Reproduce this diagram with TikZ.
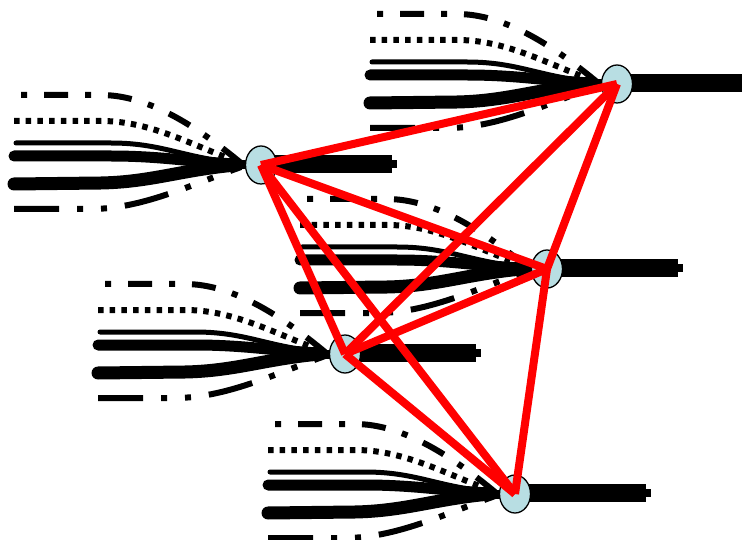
\documentclass[tikz,border=0pt]{standalone}
\usetikzlibrary{calc,shapes.geometric,backgrounds}
\definecolor{hubblue}{RGB}{184,222,227}
\definecolor{linkred}{RGB}{255,0,0}

\begin{document}
\begin{tikzpicture}[x=1pt, y=-1pt,
    hub/.style={ellipse, draw=black, line width=1.3pt, fill=hubblue, minimum width=31pt, minimum height=38pt, inner sep=0pt},
    fiber/.style={line width=#1, line cap=round},
    dashdot/.style={line width=6pt, dash pattern=on 24pt off 17pt on 6pt off 17pt, dash phase=41pt},
    dashdotdot/.style={line width=6pt, dash pattern=on 45pt off 18pt on 6pt off 18pt on 6pt off 18pt},
    squaredots/.style={line width=6pt, dash pattern=on 5.5pt off 6.2pt},
    trunk/.style={line width=18pt},
    link/.style={draw=linkred, line width=8pt}
  ]
  \useasboundingbox (0,0) rectangle (742,540);

  % hubs
  \node[hub] (A) at (261,165) {};
  \node[hub] (B) at (617,84) {};
  \node[hub] (C) at (547,269) {};
  \node[hub] (D) at (345,354) {};
  \node[hub] (E) at (515,494) {};

  % fibre bundles and trunks, behind the hubs
  \begin{scope}[on background layer]
    \foreach \hub in {A,B,C,D,E} {
      \begin{scope}[shift={(\hub)}]
        \draw[dashdot] (-240,-70) -- (-160,-70) .. controls (-110,-70) and (-60,-35) .. (-20,-2);
        \draw[squaredots] (-247,-44) -- (-160,-44) .. controls (-110,-44) and (-70,-20) .. (-20,-2);
        \draw[fiber=5pt] (-245,-22) -- (-150,-22) .. controls (-100,-22) and (-80,-8) .. (-25,-2);
        \draw[fiber=11pt] (-247,-9) -- (-150,-9) .. controls (-100,-9) and (-70,-3) .. (-25,-1);
        \draw[fiber=13pt] (-247,19) -- (-160,18) .. controls (-110,17) and (-80,5) .. (-25,0);
        \draw[dashdotdot] (-247,44) -- (-170,44) .. controls (-120,44) and (-70,20) .. (-20,2);
        \draw[line width=9pt] (-45,0) -- (0,0);
        \draw[trunk] (0,-1) -- (131,-1);
        \draw[line width=8pt] (130,-1) -- (136,-1);
      \end{scope}
    }
  \end{scope}

  % links between hubs
  \foreach \from/\to in {A/B,A/C,A/D,A/E,B/C,B/D,C/D,C/E,D/E}
    \draw[link] (\from.center) -- (\to.center);
\end{tikzpicture}
\end{document}
